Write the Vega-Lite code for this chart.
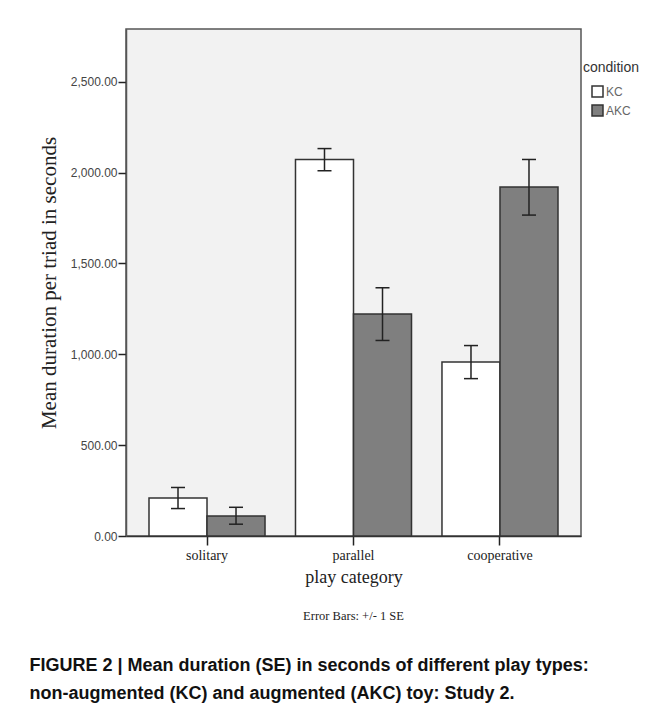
{
  "$schema": "https://vega.github.io/schema/vega-lite/v6.json",
  "padding": {"left": 29, "top": 28, "right": 5, "bottom": 5},
  "background": "white",
  "title": {
    "text": ["FIGURE 2 | Mean duration (SE) in seconds of different play types:", "non-augmented (KC) and augmented (AKC) toy: Study 2."],
    "orient": "bottom", "anchor": "start", "frame": "bounds",
    "font": "Liberation Sans", "fontSize": 18, "fontWeight": "bold", "color": "#111",
    "lineHeight": 28, "offset": 34, "dx": -8
  },
  "vconcat": [
    {
      "width": 455,
      "height": 507,
      "data": {"values": [
        {"category": "solitary", "condition": "KC", "mean": 209, "lo": 151, "hi": 267},
        {"category": "solitary", "condition": "AKC", "mean": 110, "lo": 65, "hi": 158},
        {"category": "parallel", "condition": "KC", "mean": 2072, "lo": 2010, "hi": 2132},
        {"category": "parallel", "condition": "AKC", "mean": 1222, "lo": 1076, "hi": 1366},
        {"category": "cooperative", "condition": "KC", "mean": 958, "lo": 866, "hi": 1048},
        {"category": "cooperative", "condition": "AKC", "mean": 1920, "lo": 1766, "hi": 2072}
      ]},
      "title": {
        "text": "Error Bars: +/- 1 SE", "orient": "bottom", "anchor": "middle",
        "font": "Liberation Serif", "fontSize": 12.5, "fontWeight": "normal", "color": "#222", "offset": 24
      },
      "encoding": {
        "x": {
          "field": "category", "type": "nominal", "sort": ["solitary", "parallel", "cooperative"],
          "scale": {"paddingInner": 0.208, "paddingOuter": 0.157},
          "axis": {
            "title": "play category", "labelAngle": 0,
            "labelFont": "Liberation Serif", "labelFontSize": 14, "labelColor": "#222", "labelPadding": 3,
            "tickSize": 9, "tickColor": "#222", "tickWidth": 1.5, "domainColor": "#333", "domainWidth": 1.5,
            "titleFont": "Liberation Serif", "titleFontSize": 18, "titleFontWeight": "normal", "titleColor": "#222", "titlePadding": 6
          }
        },
        "xOffset": {"field": "condition", "type": "nominal", "sort": ["KC", "AKC"], "scale": {"paddingInner": 0, "paddingOuter": 0}}
      },
      "layer": [
        {
          "mark": {"type": "bar", "stroke": "#333", "strokeWidth": 1.5},
          "encoding": {
            "y": {
              "field": "mean", "type": "quantitative",
              "scale": {"domain": [0, 2790], "nice": false, "zero": true},
              "axis": {
                "title": "Mean duration per triad in seconds", "values": [0, 500, 1000, 1500, 2000, 2500], "format": ",.2f",
                "grid": false, "labelFont": "Liberation Sans", "labelFontSize": 12, "labelColor": "#444",
                "tickSize": 8, "tickColor": "#222", "tickWidth": 1.5, "domainColor": "#555", "domainWidth": 1.5, "labelPadding": 1,
                "titleFont": "Liberation Serif", "titleFontSize": 21, "titleFontWeight": "normal", "titleColor": "#222", "titlePadding": 11
              }
            },
            "fill": {
              "field": "condition", "type": "nominal",
              "scale": {"domain": ["KC", "AKC"], "range": ["#ffffff", "#7f7f7f"]},
              "legend": {
                "orient": "none", "legendX": 457, "legendY": 32, "title": "condition",
                "titleFont": "Liberation Sans", "titleFontSize": 14, "titleFontWeight": "normal", "titleColor": "#333", "titlePadding": 10,
                "labelFont": "Liberation Sans", "labelFontSize": 12, "labelColor": "#666", "labelOffset": 2,
                "symbolType": "square", "symbolSize": 121, "symbolStrokeColor": "#333", "symbolStrokeWidth": 1.5, "symbolOffset": 8, "rowPadding": 2
              }
            }
          }
        },
        {
          "mark": {"type": "rule", "color": "#222", "strokeWidth": 1.5},
          "encoding": {"y": {"field": "lo", "type": "quantitative"}, "y2": {"field": "hi"}}
        },
        {
          "mark": {"type": "tick", "color": "#222", "size": 14, "thickness": 1.5},
          "encoding": {"y": {"field": "lo", "type": "quantitative"}}
        },
        {
          "mark": {"type": "tick", "color": "#222", "size": 14, "thickness": 1.5},
          "encoding": {"y": {"field": "hi", "type": "quantitative"}}
        }
      ]
    }
  ],
  "config": {
    "view": {"fill": "#f2f2f2", "stroke": "#555", "strokeWidth": 1.5},
    "tick": {"opacity": 1},
    "concat": {"spacing": 0}
  }
}
